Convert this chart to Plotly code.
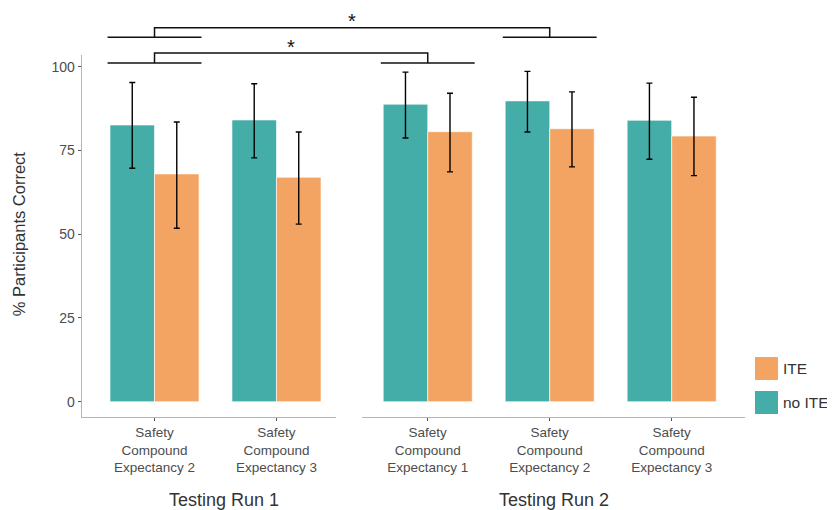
import plotly.graph_objects as go

# ---------------- data ----------------
run1_categories = ["Safety<br>Compound<br>Expectancy 2", "Safety<br>Compound<br>Expectancy 3"]
run2_categories = ["Safety<br>Compound<br>Expectancy 1", "Safety<br>Compound<br>Expectancy 2",
                   "Safety<br>Compound<br>Expectancy 3"]

run1_noite = [82.6, 84.1]
run1_noite_upper = [95.3, 94.9]
run1_noite_lower = [69.7, 72.8]
run1_ite = [68.0, 67.0]
run1_ite_upper = [83.5, 80.5]
run1_ite_lower = [51.8, 53.0]

run2_noite = [88.8, 89.8, 84.0]
run2_noite_upper = [98.4, 98.6, 95.1]
run2_noite_lower = [78.7, 80.5, 72.4]
run2_ite = [80.6, 81.5, 79.3]
run2_ite_upper = [92.1, 92.5, 90.9]
run2_ite_lower = [68.6, 70.1, 67.5]

y_ticks = [0, 25, 50, 75, 100]
panel_titles = ["Testing Run 1", "Testing Run 2"]
series_names = ["no ITE", "ITE"]

# ---------------- style / geometry ----------------
PAGE_OFF = 8            # default page body margin
W, H = 835 - PAGE_OFF, 510 - PAGE_OFF
TEAL = "#45ADA8"
ORANGE = "#F4A462"
FONT = "Liberation Sans, Arial, sans-serif"


def PX(p):
    return (p - PAGE_OFF) / W


def PY(p):
    return 1 - (p - PAGE_OFF) / H


X1_DOM = [PX(81.7), PX(336)]
X2_DOM = [PX(362), PX(745)]
X1_RANGE = [-0.597, 1.488]
X2_RANGE = [-0.539, 2.601]
Y_DOM = [PY(417), PY(55)]
Y_RANGE = [-4.57, 103.5]


def xpaper(dom, rng, v):
    return dom[0] + (v - rng[0]) / (rng[1] - rng[0]) * (dom[1] - dom[0])


def ypaper(v):
    return Y_DOM[0] + (v - Y_RANGE[0]) / (Y_RANGE[1] - Y_RANGE[0]) * (Y_DOM[1] - Y_DOM[0])


def err(vals, up, lo):
    return dict(type="data", symmetric=False,
                array=[u - v for u, v in zip(up, vals)],
                arrayminus=[v - l for v, l in zip(vals, lo)],
                color="black", thickness=1.4, width=3)


fig = go.Figure()
bar_line = dict(color="rgba(255,255,255,0.6)", width=1)

fig.add_trace(go.Bar(x=run1_categories, y=run1_noite, name=series_names[0], marker_color=TEAL,
                     marker_line=bar_line, error_y=err(run1_noite, run1_noite_upper, run1_noite_lower),
                     xaxis="x", yaxis="y", showlegend=False))
fig.add_trace(go.Bar(x=run1_categories, y=run1_ite, name=series_names[1], marker_color=ORANGE,
                     marker_line=bar_line, error_y=err(run1_ite, run1_ite_upper, run1_ite_lower),
                     xaxis="x", yaxis="y", showlegend=False))
fig.add_trace(go.Bar(x=run2_categories, y=run2_noite, name=series_names[0], marker_color=TEAL,
                     marker_line=bar_line, error_y=err(run2_noite, run2_noite_upper, run2_noite_lower),
                     xaxis="x2", yaxis="y2", showlegend=False))
fig.add_trace(go.Bar(x=run2_categories, y=run2_ite, name=series_names[1], marker_color=ORANGE,
                     marker_line=bar_line, error_y=err(run2_ite, run2_ite_upper, run2_ite_lower),
                     xaxis="x2", yaxis="y2", showlegend=False))

AXIS_LINE = "#b5b5b5"
xcommon = dict(type="category", showline=True, linecolor=AXIS_LINE, linewidth=1.2,
               ticks="outside", ticklen=3, tickcolor="#555", tickwidth=1,
               showgrid=False, zeroline=False,
               tickfont=dict(family=FONT, size=13.5, color="#4d4d4d"))

fig.update_layout(
    width=W, height=H,
    margin=dict(l=0, r=0, t=0, b=0),
    paper_bgcolor="white", plot_bgcolor="white",
    barmode="group", bargap=0.27, bargroupgap=0,
    showlegend=False,
    font=dict(family=FONT, color="#333"),
    xaxis=dict(domain=X1_DOM, range=X1_RANGE, anchor="y", categoryarray=run1_categories,
               categoryorder="array", **xcommon),
    xaxis2=dict(domain=X2_DOM, range=X2_RANGE, anchor="y2", categoryarray=run2_categories,
                categoryorder="array", **xcommon),
    yaxis=dict(domain=Y_DOM, range=Y_RANGE, anchor="x", showline=True, linecolor=AXIS_LINE,
               linewidth=1.2, ticks="outside", ticklen=3, tickcolor="#555", tickwidth=1,
               tickvals=y_ticks, showgrid=False, zeroline=False,
               tickfont=dict(family=FONT, size=14, color="#4d4d4d")),
    yaxis2=dict(domain=Y_DOM, range=Y_RANGE, anchor="x2", matches="y", showline=False,
                showticklabels=False, ticks="", showgrid=False, zeroline=False),
)

shapes = []
annotations = []

# significance brackets
HALF = 0.385


def bracket(li, ri, base, top, star_y):
    lx = xpaper(X1_DOM, X1_RANGE, li)
    rx = xpaper(X2_DOM, X2_RANGE, ri)
    dl = xpaper(X1_DOM, X1_RANGE, li + HALF) - lx
    dr = xpaper(X2_DOM, X2_RANGE, ri + HALF) - rx
    line = dict(color="#111", width=1.5)
    for c, d in ((lx, dl), (rx, dr)):
        shapes.append(dict(type="line", xref="paper", yref="paper", x0=c - d, x1=c + d,
                           y0=ypaper(base), y1=ypaper(base), line=line))
    shapes.append(dict(type="path", xref="paper", yref="paper",
                       path=f"M{lx},{ypaper(base)} L{lx},{ypaper(top)} L{rx},{ypaper(top)} L{rx},{ypaper(base)}",
                       line=line))
    annotations.append(dict(text="*", x=(lx + rx) / 2, y=ypaper(star_y), xref="paper", yref="paper",
                            showarrow=False, font=dict(family=FONT, size=20, color="#111"),
                            xanchor="center", yanchor="middle"))


bracket(0, 0, 101.1, 104.1, 106.0)
bracket(0, 1, 108.8, 111.6, 113.6)

# y axis title
annotations.append(dict(text="% Participants Correct", x=PX(19), y=ypaper(50), xref="paper", yref="paper",
                        textangle=-90, showarrow=False, font=dict(family=FONT, size=16.5, color="#333"),
                        xanchor="center", yanchor="middle"))

# panel titles
annotations.append(dict(text=panel_titles[0], x=PX(224), y=PY(500), xref="paper", yref="paper",
                        showarrow=False, font=dict(family=FONT, size=18, color="#333"),
                        xanchor="center", yanchor="middle"))
annotations.append(dict(text=panel_titles[1], x=PX(554), y=PY(500), xref="paper", yref="paper",
                        showarrow=False, font=dict(family=FONT, size=18, color="#333"),
                        xanchor="center", yanchor="middle"))

# legend (drawn manually)
legend_items = [(series_names[1], ORANGE, 357), (series_names[0], TEAL, 391)]
for name, col, top in legend_items:
    shapes.append(dict(type="rect", xref="paper", yref="paper", x0=PX(755), x1=PX(778),
                       y0=PY(top + 23), y1=PY(top), fillcolor=col, line=dict(width=0)))
    annotations.append(dict(text=name, x=PX(781), y=PY(top + 11.5), xref="paper", yref="paper",
                            showarrow=False, font=dict(family=FONT, size=15.5, color="#333"),
                            xanchor="left", yanchor="middle"))

fig.update_layout(shapes=shapes, annotations=annotations)
fig.write_html("out.html")
